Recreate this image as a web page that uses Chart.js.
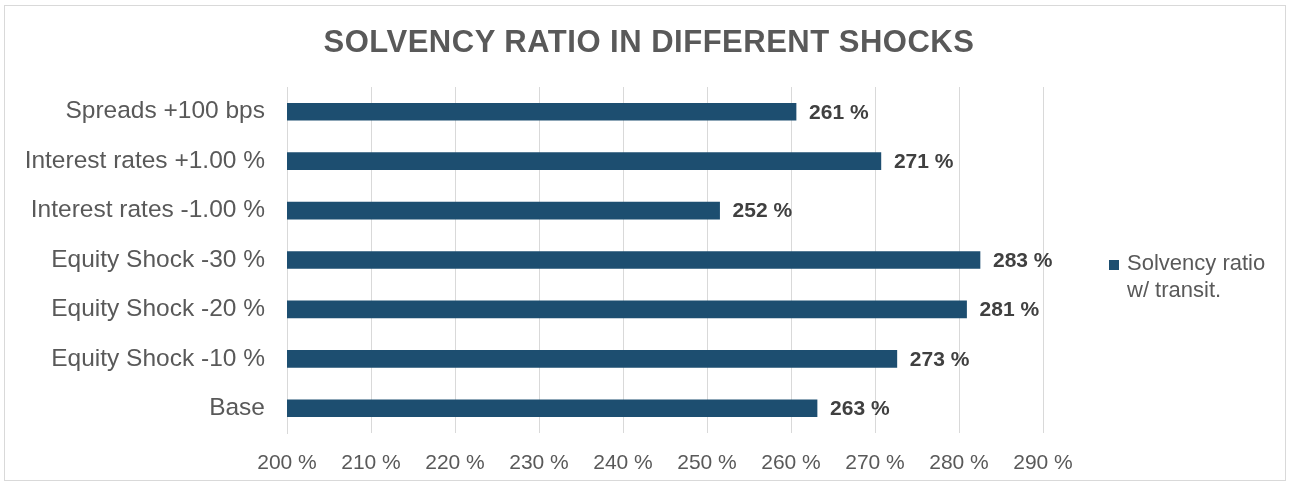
<!DOCTYPE html>
<html>
<head>
<meta charset="utf-8">
<script src="https://cdn.jsdelivr.net/npm/chart.js@4.4.0/dist/chart.umd.min.js"></script>
<style>
  html, body { margin: 0; padding: 0; background: #fff; }
  #wrap { position: relative; width: 1290px; height: 486px; }
  #frame { position: absolute; left: 4px; top: 5px; width: 1280px; height: 474px; border: 1px solid #d9d9d9; pointer-events: none; }
  #title { position: absolute; left: 0; top: 23px; width: 1298px; text-align: center; font: bold 31px "Liberation Sans", Arial, sans-serif; letter-spacing: 0.5px; color: #595959; line-height: 38px; }
  #legend { position: absolute; left: 1109px; top: 249px; font: 22px "Liberation Sans", Arial, sans-serif; color: #595959; line-height: 27px; }
  #legend .box { position: absolute; left: 0; top: 11px; width: 10px; height: 10px; background: #1d4e70; }
  #legend .txt { margin-left: 18px; }
</style>
</head>
<body>
<div id="wrap">
  <canvas id="chart" width="1290" height="486"></canvas>
  <div id="frame"></div>
  <div id="title">SOLVENCY RATIO IN DIFFERENT SHOCKS</div>
  <div id="legend"><span class="box"></span><div class="txt">Solvency ratio<br>w/ transit.</div></div>
</div>
<script>
// Dữ liệu
const categories = ['Spreads +100 bps', 'Interest rates +1.00 %', 'Interest rates -1.00 %',
    'Equity Shock -30 %', 'Equity Shock -20 %', 'Equity Shock -10 %', 'Base'];
const solvency = [260.6, 270.7, 251.5, 282.5, 280.9, 272.6, 263.1];
const seriesName = 'Solvency ratio w/ transit.';
const xTicks = [200, 210, 220, 230, 240, 250, 260, 270, 280, 290];

const barColor = '#1d4e70';
const gridColor = '#d9d9d9';
const textColor = '#595959';
const fontFamily = '"Liberation Sans", Arial, sans-serif';

// Nhãn giá trị ở cuối thanh
const valueLabels = {
    id: 'valueLabels',
    afterDatasetsDraw(chart) {
        const ctx = chart.ctx;
        const meta = chart.getDatasetMeta(0);
        ctx.save();
        ctx.font = 'bold 21px ' + fontFamily;
        ctx.fillStyle = '#404040';
        ctx.textBaseline = 'middle';
        ctx.textAlign = 'left';
        meta.data.forEach((bar, i) => {
            ctx.fillText(Math.round(solvency[i]) + ' %', bar.x + 13, bar.y + 1);
        });
        ctx.restore();
    }
};

new Chart(document.getElementById('chart').getContext('2d'), {
    type: 'bar',
    data: {
        labels: categories,
        datasets: [{
            label: seriesName,
            data: solvency,
            backgroundColor: barColor,
            borderWidth: 0,
            barThickness: 17
        }]
    },
    options: {
        indexAxis: 'y',
        responsive: false,
        animation: false,
        layout: { padding: { left: 0, right: 247, top: 87, bottom: 0 } },
        plugins: {
            legend: { display: false },
            tooltip: { enabled: false },
            title: { display: false }
        },
        scales: {
            x: {
                min: 200,
                max: 290,
                afterBuildTicks: scale => { scale.ticks = xTicks.map(v => ({ value: v })); },
                afterFit: scale => { scale.height = 53; },
                grid: { color: gridColor, drawTicks: false },
                border: { display: false },
                ticks: {
                    color: textColor,
                    padding: 18,
                    font: { family: fontFamily, size: 21 },
                    callback: v => v + ' %'
                }
            },
            y: {
                afterFit: scale => { scale.width = 287; },
                grid: { display: false, drawTicks: false },
                border: { display: true, color: gridColor },
                ticks: {
                    color: textColor,
                    padding: 22,
                    font: { family: fontFamily, size: 24.5 }
                }
            }
        }
    },
    plugins: [valueLabels]
});
</script>
</body>
</html>
